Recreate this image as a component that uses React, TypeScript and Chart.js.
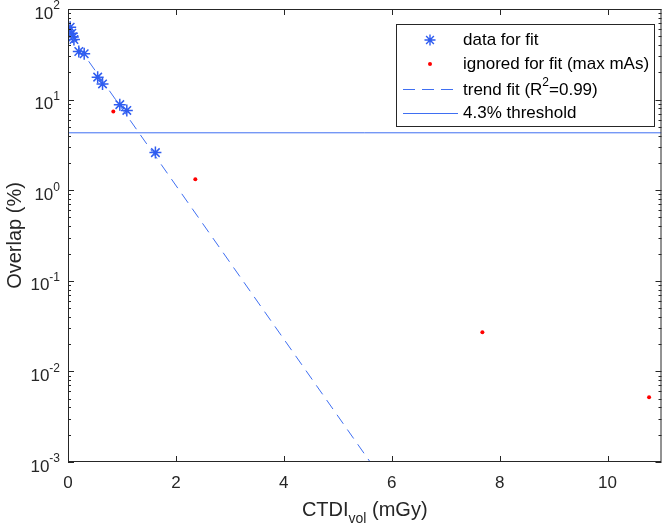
import React, { useEffect, useRef } from "react";
import { Chart, registerables } from "chart.js";

Chart.register(...registerables);

// ---- data ----
const fitX = [0.04, 0.07, 0.09, 0.11, 0.2, 0.3, 0.55, 0.64, 0.96, 1.09, 1.62];
const fitY = [63, 54, 49, 46, 34, 32, 17.7, 14.9, 8.8, 7.6, 2.6];
const ignoredX = [0.84, 2.36, 7.68, 10.77];
const ignoredY = [7.4, 1.32, 0.027, 0.0052];
const trendX = [0, 5.6];
const trendY = [56, 0.001];
const thresholdX = [0, 11];
const thresholdY = [4.3, 4.3];
const xTicks = [0, 2, 4, 6, 8, 10];
const yDecades = [-3, -2, -1, 0, 1, 2];
const legendLabels = ["data for fit", "ignored for fit (max mAs)", "trend fit (R", "4.3% threshold"];

const BLUE = "#2f5cf0";
const LINEBLUE = "#3f6ff2";
const RED = "#ff0000";
const AXIS = "#262626";
const FONT = '"Liberation Sans", Arial, Helvetica, sans-serif';

const pts = (xs: number[], ys: number[]) => xs.map((x, i) => ({ x, y: ys[i] }));

function drawStar(ctx: CanvasRenderingContext2D, x: number, y: number, r: number) {
  ctx.beginPath();
  for (let k = 0; k < 4; k++) {
    const a = (k * Math.PI) / 4;
    ctx.moveTo(x - r * Math.cos(a), y - r * Math.sin(a));
    ctx.lineTo(x + r * Math.cos(a), y + r * Math.sin(a));
  }
  ctx.stroke();
}

const decorPlugin = {
  id: "matlabDecor",
  afterDraw(chart: any) {
    const ctx: CanvasRenderingContext2D = chart.ctx;
    const { left, right, top, bottom } = chart.chartArea;
    const xs = chart.scales.x;
    const ys = chart.scales.y;
    ctx.save();
    // box
    ctx.strokeStyle = AXIS;
    ctx.lineWidth = 1;
    ctx.strokeRect(left + 0.5, top + 0.5, right - left - 1, bottom - top - 1);
    // x ticks
    ctx.beginPath();
    xTicks.forEach((v) => {
      const px = Math.round(xs.getPixelForValue(v)) + 0.5;
      ctx.moveTo(px, bottom);
      ctx.lineTo(px, bottom - 6);
      ctx.moveTo(px, top);
      ctx.lineTo(px, top + 6);
    });
    // y ticks (major + minor)
    yDecades.forEach((d) => {
      for (let m = 1; m <= 9; m++) {
        const v = m * Math.pow(10, d);
        if (v > 100.0001 || v < 0.000999) continue;
        const py = Math.round(ys.getPixelForValue(v)) + 0.5;
        const len = m === 1 ? 6 : 3;
        ctx.moveTo(left, py);
        ctx.lineTo(left + len, py);
        ctx.moveTo(right, py);
        ctx.lineTo(right - len, py);
      }
    });
    ctx.stroke();

    // x tick labels
    ctx.fillStyle = AXIS;
    ctx.font = `17px ${FONT}`;
    ctx.textAlign = "center";
    ctx.textBaseline = "middle";
    xTicks.forEach((v) => {
      ctx.fillText(String(v), xs.getPixelForValue(v), bottom + 21);
    });

    // y tick labels 10^d
    yDecades.forEach((d) => {
      const py = ys.getPixelForValue(Math.pow(10, d));
      const exp = String(d);
      ctx.font = `12px ${FONT}`;
      const ew = ctx.measureText(exp).width;
      const ex = left - 8 - ew;
      ctx.textAlign = "left";
      ctx.textBaseline = "middle";
      ctx.fillText(exp, ex, py - 3);
      ctx.font = `17px ${FONT}`;
      ctx.textAlign = "right";
      ctx.fillText("10", ex, py + 5);
    });

    // x label with subscript
    ctx.fillStyle = AXIS;
    ctx.textBaseline = "middle";
    ctx.textAlign = "left";
    ctx.font = `20px ${FONT}`;
    const p1 = "CTDI";
    const p3 = " (mGy)";
    const w1 = ctx.measureText(p1).width;
    const w3 = ctx.measureText(p3).width;
    ctx.font = `14px ${FONT}`;
    const w2 = ctx.measureText("vol").width;
    const cx = (left + right) / 2;
    const sx = cx - (w1 + w2 + w3) / 2;
    const ly = bottom + 48;
    ctx.font = `20px ${FONT}`;
    ctx.fillText(p1, sx, ly);
    ctx.font = `14px ${FONT}`;
    ctx.fillText("vol", sx + w1, ly + 9);
    ctx.font = `20px ${FONT}`;
    ctx.fillText(p3, sx + w1 + w2, ly);

    // y label
    ctx.save();
    ctx.translate(15, (top + bottom) / 2);
    ctx.rotate(-Math.PI / 2);
    ctx.textAlign = "center";
    ctx.textBaseline = "middle";
    ctx.font = `20px ${FONT}`;
    ctx.fillText("Overlap (%)", 0, 0);
    ctx.restore();

    // legend
    const lx = 396, lyTop = 24, lw = 258, lh = 102;
    ctx.fillStyle = "#ffffff";
    ctx.fillRect(lx, lyTop, lw, lh);
    ctx.strokeStyle = AXIS;
    ctx.lineWidth = 1;
    ctx.strokeRect(lx + 0.5, lyTop + 0.5, lw, lh);
    const rows = [40, 64, 89, 113];
    const tx = 463;
    ctx.strokeStyle = BLUE;
    ctx.lineWidth = 1.4;
    drawStar(ctx, 430, rows[0], 5.5);
    ctx.fillStyle = RED;
    ctx.beginPath();
    ctx.arc(430, rows[1], 2, 0, Math.PI * 2);
    ctx.fill();
    ctx.strokeStyle = LINEBLUE;
    ctx.lineWidth = 1;
    ctx.setLineDash([12, 7]);
    ctx.beginPath();
    ctx.moveTo(403, rows[2] + 0.5);
    ctx.lineTo(458, rows[2] + 0.5);
    ctx.stroke();
    ctx.setLineDash([]);
    ctx.beginPath();
    ctx.moveTo(403, rows[3] + 0.5);
    ctx.lineTo(458, rows[3] + 0.5);
    ctx.stroke();
    ctx.fillStyle = "#000000";
    ctx.textAlign = "left";
    ctx.textBaseline = "middle";
    ctx.font = `17px ${FONT}`;
    ctx.fillText(legendLabels[0], tx, rows[0]);
    ctx.fillText(legendLabels[1], tx, rows[1]);
    ctx.fillText(legendLabels[2], tx, rows[2] + 1);
    const wR = ctx.measureText(legendLabels[2]).width;
    ctx.font = `12px ${FONT}`;
    ctx.fillText("2", tx + wR, rows[2] - 6);
    const w2s = ctx.measureText("2").width;
    ctx.font = `17px ${FONT}`;
    ctx.fillText("=0.99)", tx + wR + w2s, rows[2] + 1);
    ctx.fillText(legendLabels[3], tx, rows[3]);
    ctx.restore();
  },
};

export default function App() {
  const ref = useRef<HTMLCanvasElement | null>(null);
  useEffect(() => {
    document.body.style.margin = "0";
    const canvas = ref.current;
    if (!canvas) return;
    const chart = new Chart(canvas, {
      type: "scatter",
      data: {
        datasets: [
          {
            label: "trend fit",
            data: pts(trendX, trendY),
            showLine: true,
            borderColor: LINEBLUE,
            borderWidth: 1,
            borderDash: [11, 7],
            pointRadius: 0,
            fill: false,
          },
          {
            label: "4.3% threshold",
            data: pts(thresholdX, thresholdY),
            showLine: true,
            borderColor: LINEBLUE,
            borderWidth: 1,
            pointRadius: 0,
            fill: false,
          },
          {
            label: "data for fit",
            data: pts(fitX, fitY),
            pointStyle: "star",
            pointRadius: 6,
            borderColor: BLUE,
            backgroundColor: BLUE,
            pointBorderWidth: 1.5,
          },
          {
            label: "ignored for fit (max mAs)",
            data: pts(ignoredX, ignoredY),
            pointStyle: "circle",
            pointRadius: 2,
            borderWidth: 0,
            backgroundColor: RED,
            borderColor: RED,
          },
        ],
      },
      options: {
        responsive: false,
        animation: false,
        devicePixelRatio: 1,
        layout: { padding: { left: 68, right: 1, top: 9, bottom: 64 } },
        plugins: { legend: { display: false }, tooltip: { enabled: false } },
        scales: {
          x: { type: "linear", min: 0, max: 11, display: false },
          y: { type: "logarithmic", min: 0.001, max: 100, display: false },
        },
      },
      plugins: [decorPlugin],
    });
    return () => chart.destroy();
  }, []);
  return <canvas ref={ref} width={669} height={526} style={{ display: "block" }} />;
}
